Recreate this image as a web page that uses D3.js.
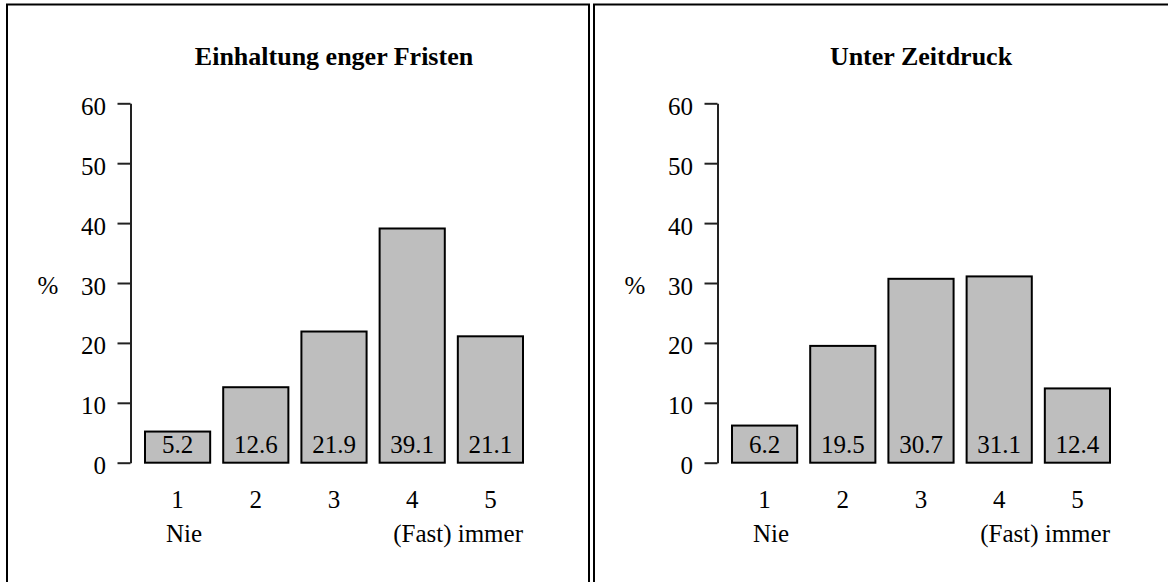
<!DOCTYPE html>
<html>
<head>
<meta charset="utf-8">
<script src="https://cdn.jsdelivr.net/npm/d3@7"></script>
<style>
  html, body { margin: 0; padding: 0; background: #fff; }
  svg { display: block; }
  text { font-family: "Liberation Serif", "Times New Roman", serif; fill: #000; }
</style>
</head>
<body>
<svg id="chart" width="1168" height="582"></svg>
<script>
// ---- data ----
const categories = ["1", "2", "3", "4", "5"];
const titles = ["Einhaltung enger Fristen", "Unter Zeitdruck"];
const valuesFristen = [5.2, 12.6, 21.9, 39.1, 21.1];
const valuesZeitdruck = [6.2, 19.5, 30.7, 31.1, 12.4];
const yTicks = [0, 10, 20, 30, 40, 50, 60];
const yLabel = "%";
const lowLabel = "Nie";
const highLabel = "(Fast) immer";

// ---- drawing ----
const svg = d3.select("#chart");
const panels = [
  { title: titles[0], values: valuesFristen, dx: 0 },
  { title: titles[1], values: valuesZeitdruck, dx: 587 }
];

const x = d3.scaleBand().domain(categories).range([145, 523])
  .paddingInner(1 / 6).paddingOuter(0);
const y = d3.scaleLinear().domain([0, 60]).range([462.7, 103.3]);

panels.forEach(p => {
  const g = svg.append("g").attr("transform", `translate(${p.dx},0)`);

  // panel frame
  g.append("rect")
    .attr("x", 7).attr("y", 4.5)
    .attr("width", 582).attr("height", 700)
    .attr("fill", "none").attr("stroke", "#000").attr("stroke-width", 2);

  // title
  const cx = (x.range()[0] + x.range()[1]) / 2;
  g.append("text")
    .attr("x", cx).attr("y", 65)
    .attr("text-anchor", "middle")
    .attr("font-size", 26).attr("font-weight", "bold")
    .text(p.title);

  // y axis
  const axis = d3.axisLeft(y).tickValues(yTicks).tickSize(13).tickSizeOuter(0)
    .tickPadding(11.5).tickFormat(d3.format("d"));
  const ag = g.append("g").attr("transform", "translate(130.5,0)").call(axis);
  ag.select(".domain").attr("stroke", "#222").attr("stroke-width", 2);
  ag.selectAll(".tick line").attr("stroke", "#222").attr("stroke-width", 2);
  ag.selectAll(".tick text")
    .attr("dy", "11px")
    .attr("font-size", 25)
    .attr("font-family", "Liberation Serif, Times New Roman, serif")
    .attr("fill", "#000");

  // y label
  g.append("text")
    .attr("x", 48).attr("y", y(30) + 11)
    .attr("text-anchor", "middle")
    .attr("font-size", 25)
    .text(yLabel);

  // bars
  g.selectAll("rect.bar").data(p.values).enter().append("rect")
    .attr("class", "bar")
    .attr("x", (d, i) => x(categories[i]))
    .attr("width", x.bandwidth())
    .attr("y", d => y(d))
    .attr("height", d => y(0) - y(d))
    .attr("fill", "#bebebe")
    .attr("stroke", "#000")
    .attr("stroke-width", 2);

  // value labels
  g.selectAll("text.val").data(p.values).enter().append("text")
    .attr("class", "val")
    .attr("x", (d, i) => x(categories[i]) + x.bandwidth() / 2)
    .attr("y", y(0) - 10)
    .attr("text-anchor", "middle")
    .attr("font-size", 25)
    .text(d => d.toFixed(1));

  // category labels
  g.selectAll("text.cat").data(categories).enter().append("text")
    .attr("class", "cat")
    .attr("x", d => x(d) + x.bandwidth() / 2)
    .attr("y", 508)
    .attr("text-anchor", "middle")
    .attr("font-size", 25)
    .text(d => d);

  // end labels
  g.append("text")
    .attr("x", x(categories[0]) + x.bandwidth() / 2 + 6.5)
    .attr("y", 542)
    .attr("text-anchor", "middle")
    .attr("font-size", 25)
    .text(lowLabel);
  g.append("text")
    .attr("x", x(categories[4]) + x.bandwidth())
    .attr("y", 542)
    .attr("text-anchor", "end")
    .attr("font-size", 25)
    .text(highLabel);
});
</script>
</body>
</html>
